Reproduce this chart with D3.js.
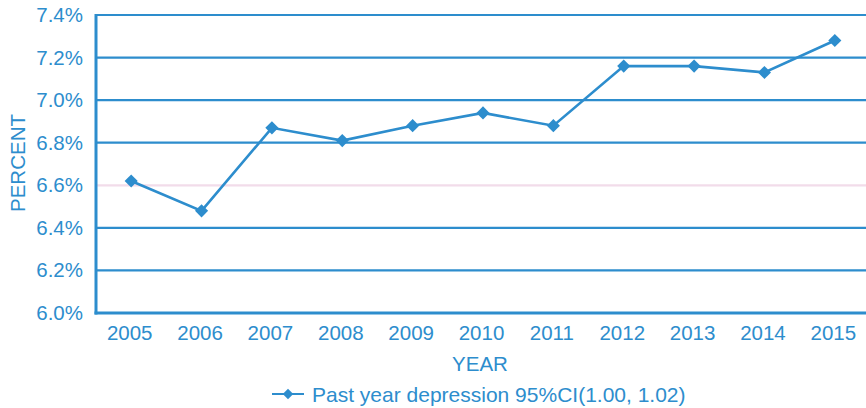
<!DOCTYPE html>
<html>
<head>
<meta charset="utf-8">
<script src="https://cdn.jsdelivr.net/npm/d3@7"></script>
<style>
  html, body { margin: 0; padding: 0; background: #fff; }
  svg { display: block; }
  text { font-family: "Liberation Sans", Arial, Helvetica, sans-serif; fill: #2d8dcd; }
</style>
</head>
<body>
<svg id="chart" width="866" height="408"></svg>
<script>
// Past-year depression prevalence by survey year
const years = ["2005", "2006", "2007", "2008", "2009", "2010", "2011", "2012", "2013", "2014", "2015"];
const depression = [6.62, 6.48, 6.87, 6.81, 6.88, 6.94, 6.88, 7.16, 7.16, 7.13, 7.28];
const yTicks = [6.0, 6.2, 6.4, 6.6, 6.8, 7.0, 7.2, 7.4];
const seriesName = "Past year depression 95%CI(1.00, 1.02)";

const blue = "#2d8dcd";
const pink = "#f2dcea";

const svg = d3.select("#chart");
const plotLeft = 96, plotRight = 870, plotTop = 15, plotBottom = 313;

const x = d3.scalePoint().domain(years).range([plotLeft, plotRight]).padding(0.5);
const y = d3.scaleLinear().domain([6.0, 7.4]).range([plotBottom, plotTop]);

// horizontal gridlines (6.6% drawn in a pale tint)
svg.append("g")
  .selectAll("line")
  .data(yTicks.filter(d => d > 6.0))
  .join("line")
  .attr("x1", plotLeft).attr("x2", plotRight)
  .attr("y1", d => y(d)).attr("y2", d => y(d))
  .attr("stroke", d => Math.abs(d - 6.6) < 1e-9 ? pink : blue)
  .attr("stroke-width", 2.2);

// axes frame
svg.append("line")
  .attr("x1", plotLeft).attr("x2", plotLeft).attr("y1", plotTop - 1).attr("y2", plotBottom + 1.5)
  .attr("stroke", blue).attr("stroke-width", 3);
svg.append("line")
  .attr("x1", plotLeft - 1.5).attr("x2", plotRight).attr("y1", plotBottom).attr("y2", plotBottom)
  .attr("stroke", blue).attr("stroke-width", 3);

// y tick labels
const yAxis = d3.axisLeft(y).tickValues(yTicks).tickSize(0).tickPadding(13)
  .tickFormat(d => d3.format(".1f")(d) + "%");
const gy = svg.append("g").attr("transform", `translate(${plotLeft},0)`).call(yAxis);
gy.select(".domain").remove();
gy.selectAll("text").attr("font-size", 20.5).attr("fill", blue)
  .attr("font-family", "Liberation Sans, Arial, sans-serif");

// x tick labels
const xAxis = d3.axisBottom(x).tickSize(0).tickPadding(12);
const gx = svg.append("g").attr("transform", `translate(-2,${plotBottom})`).call(xAxis);
gx.select(".domain").remove();
gx.selectAll("text").attr("font-size", 20.5).attr("fill", blue)
  .attr("font-family", "Liberation Sans, Arial, sans-serif");

// axis titles
svg.append("text")
  .attr("x", 480).attr("y", 371)
  .attr("text-anchor", "middle").attr("font-size", 20.5)
  .text("YEAR");
svg.append("text")
  .attr("transform", "translate(25,163) rotate(-90)")
  .attr("text-anchor", "middle").attr("font-size", 20.5)
  .text("PERCENT");

// series line and diamond markers
const line = d3.line().x((d, i) => x(years[i])).y(d => y(d));
svg.append("path")
  .datum(depression)
  .attr("d", line)
  .attr("fill", "none")
  .attr("stroke", blue)
  .attr("stroke-width", 2.6);

const diamond = d3.symbol().type(d3.symbolDiamond2).size(110);
svg.append("g")
  .selectAll("path")
  .data(depression)
  .join("path")
  .attr("transform", (d, i) => `translate(${x(years[i])},${y(d)})`)
  .attr("d", diamond)
  .attr("fill", blue);

// legend
const lg = svg.append("g").attr("transform", "translate(272,394)");
lg.append("line").attr("x1", 0).attr("x2", 32).attr("y1", 0).attr("y2", 0)
  .attr("stroke", blue).attr("stroke-width", 2);
lg.append("path").attr("transform", "translate(16,0)")
  .attr("d", d3.symbol().type(d3.symbolDiamond2).size(70)).attr("fill", blue);
lg.append("text").attr("x", 40).attr("y", 7.5).attr("font-size", 21).text(seriesName);
</script>
</body>
</html>
